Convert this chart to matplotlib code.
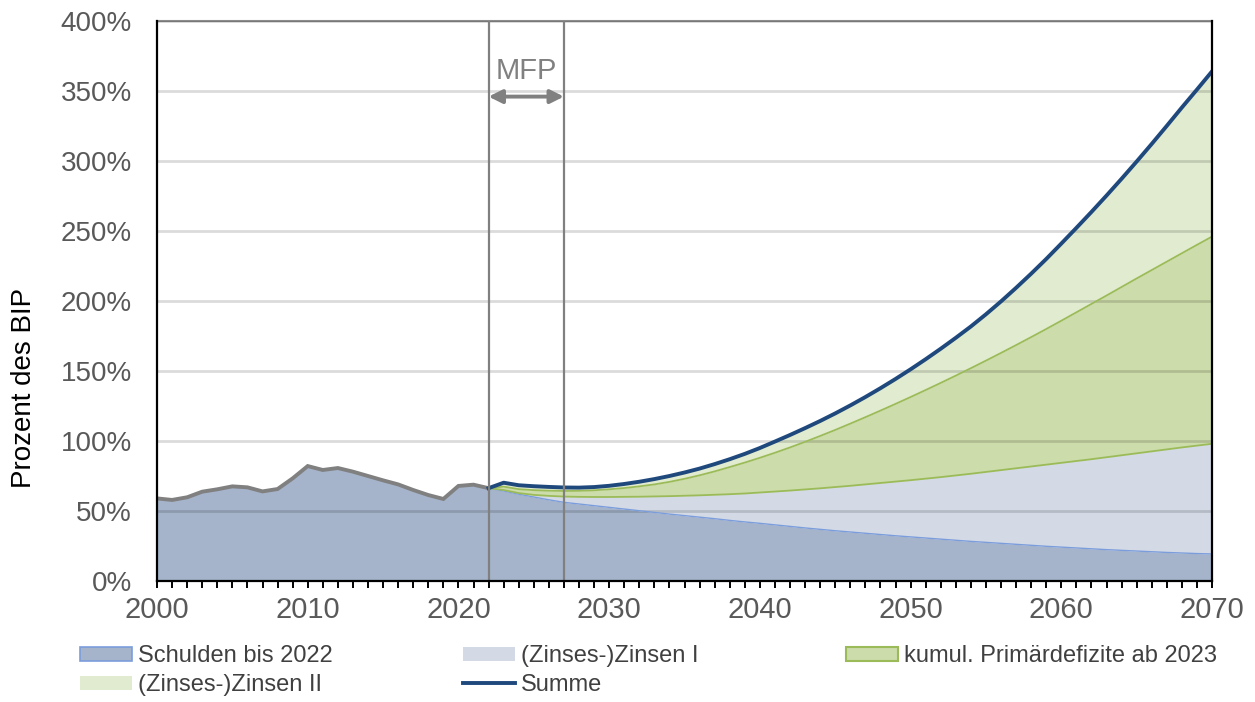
import numpy as np
import matplotlib
matplotlib.use("Agg")
import matplotlib.pyplot as plt
from matplotlib.patches import Patch
from matplotlib.lines import Line2D

plt.rcParams['font.family'] = ['Liberation Sans', 'DejaVu Sans']

# Historical debt ratio (percent of GDP), 2000-2022
jahre_hist = list(range(2000, 2023))
schulden_hist = [59.0, 57.9, 59.8, 63.8, 65.5, 67.6, 66.9, 64.0, 65.7, 73.3,
                 82.1, 79.3, 80.7, 78.1, 75.0, 71.9, 69.0, 65.0, 61.4, 58.6,
                 67.9, 68.8, 66.3]

# Projection 2022-2070: cumulative levels of the stacked components
jahre_proj = list(range(2022, 2071))
stand_schulden = [66.3, 64.3, 62.0, 60.0, 58.0, 56.2, 55.0, 53.8, 52.6, 51.4,
                  50.2, 49.0, 47.8, 46.7, 45.6, 44.5, 43.3, 42.2, 41.2, 40.1,
                  39.0, 37.9, 36.9, 35.9, 35.0, 34.1, 33.2, 32.3, 31.5, 30.7,
                  29.9, 29.1, 28.3, 27.6, 26.9, 26.2, 25.5, 24.8, 24.2, 23.6,
                  23.0, 22.4, 21.9, 21.4, 20.9, 20.4, 20.0, 19.6, 19.3]
stand_zinsen1 = [66.3, 65.0, 62.8, 61.5, 60.8, 60.3, 60.1, 60.0, 60.0, 60.1,
                 60.2, 60.4, 60.6, 60.9, 61.2, 61.6, 62.0, 62.5, 63.2, 63.9,
                 64.6, 65.4, 66.2, 67.1, 68.0, 69.0, 70.0, 71.0, 72.0, 73.1,
                 74.2, 75.4, 76.6, 77.9, 79.2, 80.5, 81.8, 83.1, 84.4, 85.7,
                 87.0, 88.4, 89.8, 91.2, 92.6, 94.0, 95.4, 96.7, 98.0]
stand_primaer = [66.3, 67.4, 65.6, 64.9, 64.5, 64.3, 64.4, 64.8, 65.5, 66.4,
                 67.6, 69.0, 70.8, 73.0, 75.5, 78.3, 81.4, 84.6, 88.0, 91.6,
                 95.4, 99.4, 103.6, 107.9, 112.4, 117.0, 121.7, 126.5, 131.4, 136.4,
                 141.5, 146.7, 152.0, 157.4, 162.9, 168.5, 174.2, 180.0, 185.9, 191.9,
                 197.9, 203.9, 210.0, 216.1, 222.1, 228.1, 234.1, 240.1, 246.0]
summe = [66.3, 70.2, 68.4, 67.7, 67.2, 66.8, 66.7, 67.1, 68.0, 69.3,
         70.9, 72.8, 75.0, 77.5, 80.3, 83.5, 87.0, 90.8, 95.0, 99.6,
         104.3, 109.2, 114.3, 119.7, 125.4, 131.4, 137.7, 144.3, 151.2, 158.4,
         165.9, 173.7, 181.8, 190.5, 199.7, 209.4, 219.5, 230.0, 241.0, 252.2,
         263.6, 275.3, 287.3, 299.6, 312.2, 325.1, 338.2, 351.0, 364.0]

# Medium-term financial planning window
mfp_start, mfp_ende = 2022, 2027

labels = ["Schulden bis 2022", "(Zinses-)Zinsen I", "kumul. Primärdefizite ab 2023",
          "(Zinses-)Zinsen II", "Summe"]

c_schulden = "#A5B4CB"
c_schulden_rand = "#7C9DDB"
c_zins1 = "#D3DAE5"
c_primaer = "#CCDCAA"
c_primaer_rand = "#9BBB59"
c_zins2 = "#E1EBCF"
c_summe = "#1F497D"
c_grau = "#808080"
c_text = "#595959"

fig = plt.figure(figsize=(12.55, 7.02), dpi=100)
ax = fig.add_axes([157 / 1255, 1 - 581 / 702, 1055 / 1255, 560 / 702])

jh = np.array(jahre_hist)
jp = np.array(jahre_proj)
x_all = np.concatenate([jh, jp[1:]])
s_all = np.concatenate([schulden_hist, stand_schulden[1:]])

# Stacked areas
ax.fill_between(x_all, 0, s_all, color=c_schulden, lw=0, zorder=1)
ax.fill_between(jp, stand_schulden, stand_zinsen1, color=c_zins1, lw=0, zorder=1)
ax.fill_between(jp, stand_zinsen1, stand_primaer, color=c_primaer, lw=0, zorder=1)
ax.fill_between(jp, stand_primaer, summe, color=c_zins2, lw=0, zorder=1)

# Gridlines
ax.set_yticks(np.arange(0, 401, 50))
ax.yaxis.grid(True, color="black", alpha=0.14, lw=2, zorder=2)
ax.set_axisbelow(False)
for gl in ax.get_ygridlines():
    gl.set_zorder(2)

# Area outlines
ax.plot(jp, stand_schulden, color=c_schulden_rand, lw=1.0, zorder=3)
ax.plot([2070, 2070], [0, stand_schulden[-1]], color=c_schulden_rand, lw=1.5, zorder=3)
ax.plot(jp, stand_zinsen1, color=c_primaer_rand, lw=1.3, zorder=3)
ax.plot(jp, stand_primaer, color=c_primaer_rand, lw=1.3, zorder=3)
ax.plot([2070, 2070], [stand_zinsen1[-1], stand_primaer[-1]], color=c_primaer_rand, lw=2, zorder=3)

# History and total lines
ax.plot(jh, schulden_hist, color=c_grau, lw=2.8, zorder=4, solid_joinstyle="miter")
ax.plot(jp, summe, color=c_summe, lw=2.8, zorder=5)

# MFP window
for xv in (mfp_start, mfp_ende):
    ax.plot([xv, xv], [0, 400], color=c_grau, lw=1.6, zorder=6)
ax.annotate("", xy=(mfp_ende, 346), xytext=(mfp_start, 346),
            arrowprops=dict(arrowstyle="<|-|>", color=c_grau, lw=2.8,
                            mutation_scale=20, shrinkA=0, shrinkB=0), zorder=6)
ax.text((mfp_start + mfp_ende) / 2, 364, "MFP", color=c_grau, fontsize=21,
        ha="center", va="center", zorder=6)

ax.set_xlim(2000, 2070)
ax.set_ylim(0, 400)
ax.set_xticks(np.arange(2000, 2071, 10))
ax.set_xticks(np.arange(2000, 2071, 1), minor=True)
ax.tick_params(axis="x", which="both", direction="out", length=5, width=1.4,
               color="black", labelsize=21, labelcolor=c_text, pad=6)
ax.tick_params(axis="y", length=0, labelsize=20, labelcolor=c_text, pad=18)
ax.set_yticklabels([f"{v}%" for v in range(0, 401, 50)])

for side in ("left", "bottom", "right"):
    ax.spines[side].set_color("black")
    ax.spines[side].set_linewidth(1.6)
    ax.spines[side].set_zorder(7)
ax.spines["top"].set_color("#8C8C8C")
ax.spines["top"].set_linewidth(1.5)

ax.set_ylabel("Prozent des BIP", fontsize=20, color="black")
ax.yaxis.set_label_coords(-0.1137, 0.345)

# Legend, laid out as three columns in two rows
h_schulden = Patch(facecolor=c_schulden, edgecolor=c_schulden_rand, lw=1.2)
h_zins1 = Patch(facecolor=c_zins1, edgecolor="none")
h_primaer = Patch(facecolor=c_primaer, edgecolor=c_primaer_rand, lw=1.5)
h_zins2 = Patch(facecolor=c_zins2, edgecolor="none")
h_summe = Line2D([], [], color=c_summe, lw=2.8)

spalten = [([h_schulden, h_zins2], [labels[0], labels[3]], 80),
           ([h_zins1, h_summe], [labels[1], labels[4]], 463),
           ([h_primaer], [labels[2]], 846)]
for hs, ls, xpix in spalten:
    leg = fig.legend(hs, ls, loc="upper left", bbox_to_anchor=(xpix / 1255, 1 - 645 / 702),
                     frameon=False, fontsize=17, handlelength=2.2, handleheight=0.55,
                     handletextpad=0.25, labelspacing=0.3, borderpad=0, borderaxespad=0)
    for t in leg.get_texts():
        t.set_color("#404040")

fig.savefig("out.png", dpi=100)
